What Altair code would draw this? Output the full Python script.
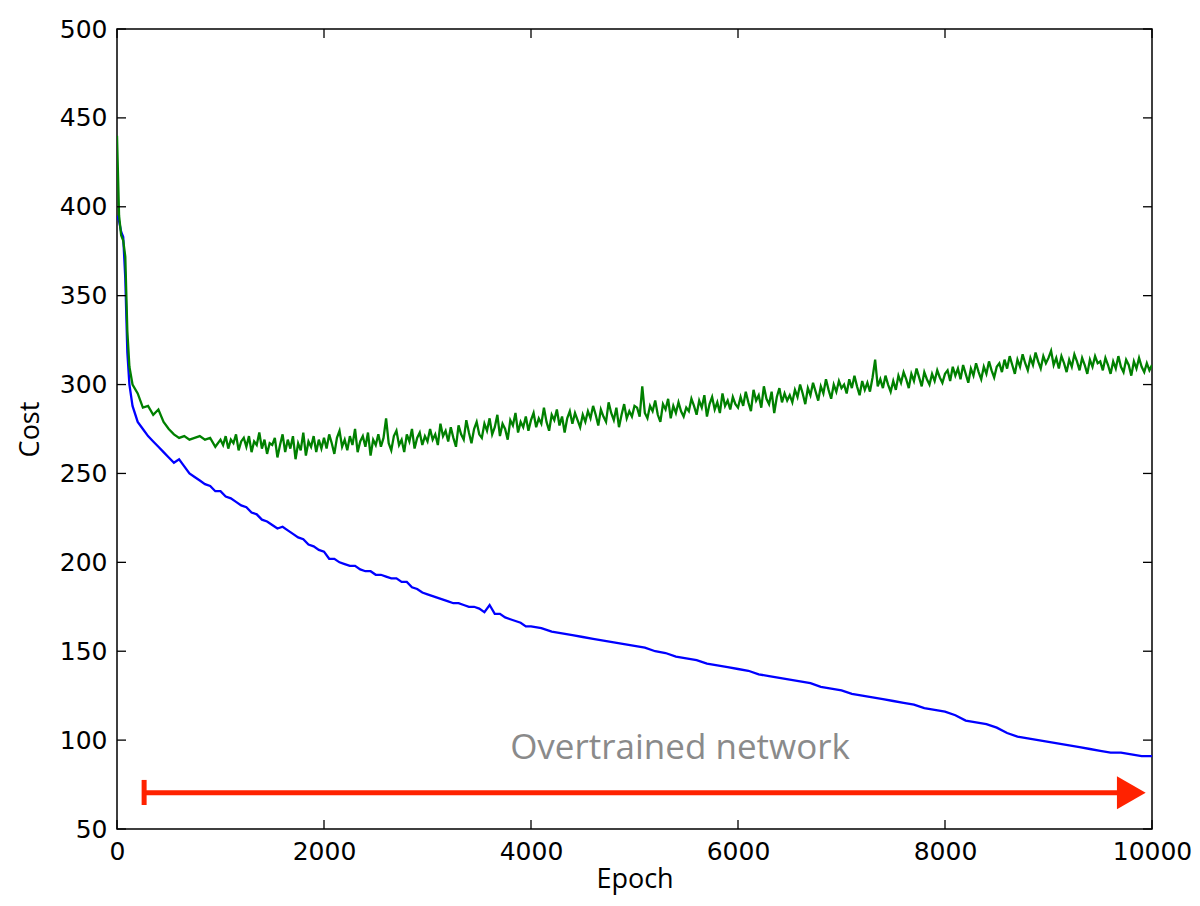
import altair as alt
import pandas as pd

# ---------------- data ----------------
# Validation cost (green)
green_epochs_a = [0, 20, 40, 60, 80, 100, 120, 150] + list(range(200, 1001, 50))
green_cost_a = [440, 395, 384, 381, 372, 330, 310, 300,
                295, 287, 288, 283, 286, 279, 275, 272, 270, 271,
                269, 270, 271, 269, 270, 265, 269]
green_epochs_b = list(range(1025, 10001, 25))
green_cost_b = [
    266, 271, 264, 269, 267, 272, 263, 268, 270, 265, 271, 262, 268, 266, 273, 264, 269, 261, 267, 266,
    270, 259, 266, 272, 262, 269, 264, 271, 258, 267, 263, 273, 260, 268, 265, 271, 262, 269, 264, 270,
    264, 272, 267, 261, 270, 274, 265, 269, 263, 271, 266, 275, 262, 268, 271, 265, 273, 260, 269, 266,
    272, 265, 270, 281, 267, 263, 271, 274, 266, 269, 262, 272, 268, 275, 264, 270, 273, 266, 271, 268,
    275, 269, 272, 266, 278, 271, 274, 268, 276, 270, 265, 277, 272, 269, 280, 273, 267, 275, 279, 272,
    270, 278, 274, 281, 272, 276, 283, 271, 278, 275, 269, 280, 277, 284, 273, 279, 276, 282, 274, 280,
    284, 276, 281, 278, 287, 279, 274, 283, 280, 286, 277, 282, 273, 281, 285, 278, 284, 280, 276, 283,
    279, 285, 281, 288, 283, 277, 286, 282, 279, 290, 284, 280, 287, 276, 283, 289, 281, 285, 282, 288,
    287, 282, 299, 284, 281, 288, 285, 291, 283, 279, 289, 286, 292, 281, 288, 284, 290, 285, 282, 287,
    285, 292, 288, 283, 291, 287, 294, 282, 289, 293, 286, 290, 284, 295, 288, 291, 286, 293, 289, 287,
    293, 288, 296, 290, 285, 297, 291, 294, 287, 299, 292, 289, 296, 284, 293, 298, 290, 295, 291, 294,
    290, 297, 293, 300, 295, 289, 298, 294, 301, 296, 291, 299, 295, 303, 297, 292, 300, 296, 302, 298,
    300, 295, 303, 298, 305, 299, 294, 302, 297, 301, 296, 304, 314, 299, 303, 298, 305, 300, 296, 302,
    297, 305, 301, 307, 303, 298, 306, 302, 309, 304, 299, 307, 303, 300, 306, 302, 308, 304, 301, 306,
    308, 302, 310, 305, 309, 303, 311, 306, 301, 309, 305, 312, 307, 303, 310, 306, 313, 308, 304, 310,
    312, 307, 314, 309, 316, 311, 306, 314, 310, 317, 312, 308, 315, 311, 318, 313, 309, 316, 312, 315,
    319, 311, 315, 309, 316, 312, 307, 314, 310, 317, 313, 308, 315, 311, 306, 314, 310, 316, 312, 313,
    308, 315, 311, 306, 313, 309, 316, 310, 307, 314, 311, 305, 313, 309, 315, 310, 307, 312, 308, 311,
]

# Training cost (blue)
blue_epochs_a = [0, 20, 40, 60, 80, 100, 120, 150, 200, 250, 300, 350,
                 400, 450, 500, 550, 600, 650, 700, 750, 800]
blue_cost_a = [395, 392, 386, 383, 360, 318, 300, 288, 279, 275, 271, 268,
               265, 262, 259, 256, 258, 254, 250, 248, 246]
blue_epochs_b = list(range(850, 4001, 50))
blue_cost_b = [
    244, 243, 240,
    240, 237, 236, 234, 232, 231, 228, 227, 224, 223, 221, 219, 220, 218, 216, 214, 213, 210, 209, 207,
    206, 202, 202, 200, 199, 198, 198, 196, 195, 195, 193, 193, 192, 191, 191, 189, 189, 186, 185, 183,
    182, 181, 180, 179, 178, 177, 177, 176, 175, 175, 174, 172, 176, 171, 171, 169, 168, 167, 166, 164,
    164,
]
blue_epochs_c = list(range(4100, 10001, 100))
blue_cost_c = [
    163, 161, 160, 159, 158, 157, 156, 155, 154, 153,
    152, 150, 149, 147, 146, 145, 143, 142, 141, 140,
    139, 137, 136, 135, 134, 133, 132, 130, 129, 128,
    126, 125, 124, 123, 122, 121, 120, 118, 117, 116,
    114, 111, 110, 109, 107, 104, 102, 101, 100, 99,
    98, 97, 96, 95, 94, 93, 93, 92, 91, 91,
]

x_ticks = [0, 2000, 4000, 6000, 8000, 10000]
y_ticks = [50, 100, 150, 200, 250, 300, 350, 400, 450, 500]

annotation_text = ["Overtrained network"]
annotation_epoch = [5440]
annotation_cost = [95.5]

arrow_start = [262]
arrow_end = [9700]
arrow_head = [9800]
arrow_y = [70.4]
bar_low = [63.5]
bar_high = [77.6]

# ---------------- chart ----------------
W, H = 1035, 800
TICK_FONT = "DejaVu Sans"
TITLE_FONT = "Open Sans"

green_df = pd.DataFrame({"epoch": green_epochs_a + green_epochs_b,
                         "cost": green_cost_a + green_cost_b})
blue_df = pd.DataFrame({"epoch": blue_epochs_a + blue_epochs_b + blue_epochs_c,
                        "cost": blue_cost_a + blue_cost_b + blue_cost_c})

xscale = alt.Scale(domain=[0, 10000], nice=False, zero=False)
yscale = alt.Scale(domain=[50, 500], nice=False, zero=False)

xaxis = alt.Axis(values=x_ticks, format="d", grid=False, domain=False, ticks=False, tickSize=0,
                 labelFont=TICK_FONT, labelFontSize=25, labelColor="#000000", labelPadding=10,
                 labelFlush=False, title="Epoch", titleFont=TITLE_FONT, titleFontSize=27,
                 titleFontWeight="normal", titleColor="#000000",
                 titleX=W / 2, titleY=58, titleBaseline="alphabetic", titleAlign="center")
yaxis = alt.Axis(values=y_ticks, format="d", grid=False, domain=False, ticks=False, tickSize=0,
                 labelFont=TICK_FONT, labelFontSize=25, labelColor="#000000", labelPadding=10,
                 labelFlush=False, title="Cost", titleFont=TITLE_FONT, titleFontSize=27,
                 titleFontWeight="normal", titleColor="#000000",
                 titleX=-79, titleY=H / 2, titleAngle=270, titleBaseline="alphabetic",
                 titleAlign="center")


def X(field):
    return alt.X(field, scale=xscale, axis=xaxis)


def Y(field):
    return alt.Y(field, scale=yscale, axis=yaxis)


blue = alt.Chart(blue_df).mark_line(color="#0000ff", strokeWidth=2.3, clip=True).encode(
    x=X("epoch:Q"), y=Y("cost:Q"))
green = alt.Chart(green_df).mark_line(color="#008000", strokeWidth=2.3, clip=True).encode(
    x=X("epoch:Q"), y=Y("cost:Q"))

xt = pd.DataFrame({"t": x_ticks})
yt = pd.DataFrame({"t": y_ticks})
tick_style = dict(color="#000000", strokeWidth=1.3)
ticks_bottom = alt.Chart(xt).mark_rule(**tick_style).encode(
    x=X("t:Q"), y=alt.value(H), y2=alt.value(H - 9))
ticks_top = alt.Chart(xt).mark_rule(**tick_style).encode(
    x=X("t:Q"), y=alt.value(0), y2=alt.value(9))
ticks_left = alt.Chart(yt).mark_rule(**tick_style).encode(
    y=Y("t:Q"), x=alt.value(0), x2=alt.value(9))
ticks_right = alt.Chart(yt).mark_rule(**tick_style).encode(
    y=Y("t:Q"), x=alt.value(W), x2=alt.value(W - 9))

arrow_df = pd.DataFrame({"x0": arrow_start, "x1": arrow_end, "xh": arrow_head,
                         "y": arrow_y, "lo": bar_low, "hi": bar_high})
RED = "#ff2200"
arrow_line = alt.Chart(arrow_df).mark_rule(color=RED, strokeWidth=5).encode(
    x=X("x0:Q"), x2="x1:Q", y=Y("y:Q"))
arrow_bar = alt.Chart(arrow_df).mark_rule(color=RED, strokeWidth=5).encode(
    x=X("x0:Q"), y=Y("lo:Q"), y2="hi:Q")
arrow_tip = alt.Chart(arrow_df).mark_point(shape="triangle-right", filled=True, color=RED,
                                           opacity=1, size=1100, strokeWidth=0).encode(
    x=X("xh:Q"), y=Y("y:Q"))

ann_df = pd.DataFrame({"epoch": annotation_epoch, "cost": annotation_cost, "text": annotation_text})
annotation = alt.Chart(ann_df).mark_text(font="Open Sans", fontSize=35, color="#8a8a8a",
                                         align="center", baseline="middle").encode(
    x=X("epoch:Q"), y=Y("cost:Q"), text="text:N")

chart = alt.layer(
    blue, green, ticks_bottom, ticks_top, ticks_left, ticks_right,
    arrow_line, arrow_bar, arrow_tip, annotation,
).properties(
    width=W, height=H,
    autosize=alt.AutoSizeParams(type="none"),
    padding={"left": 109, "top": 21, "right": 40, "bottom": 66},
).configure(
    background="#ffffff",
    view=alt.ViewConfig(stroke="#000000", strokeWidth=1.5, fill="#ffffff"),
)

chart.save("out.html", embed_options={"renderer": "svg", "actions": False})
